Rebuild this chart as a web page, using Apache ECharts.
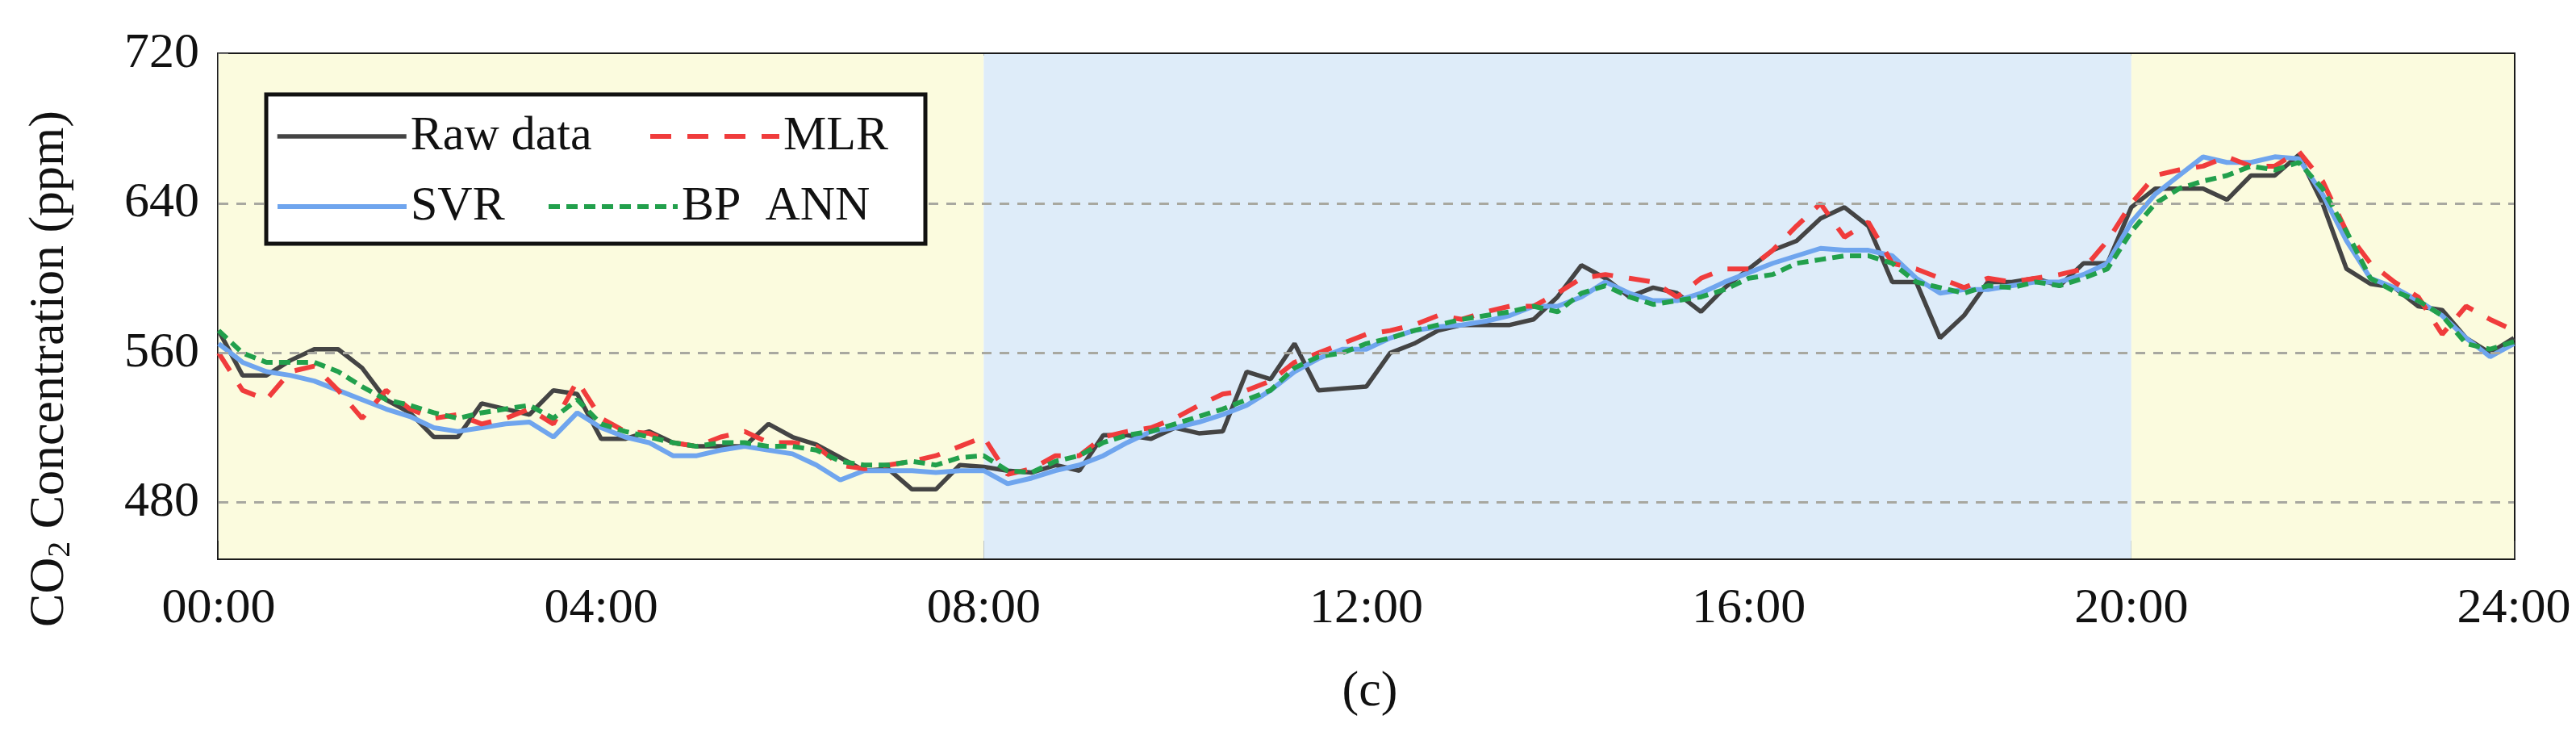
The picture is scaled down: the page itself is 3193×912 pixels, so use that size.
<!DOCTYPE html>
<html>
<head>
<meta charset="utf-8">
<script src="https://cdn.jsdelivr.net/npm/echarts@6/dist/echarts.min.js"></script>
<style>
  html, body { margin: 0; padding: 0; background: #fff; }
  #chart { width: 3193px; height: 912px; }
</style>
</head>
<body>
<div id="chart"></div>
<script>
// readings every 15 minutes, 00:00 .. 24:00
const stepHours = 0.25;

const rawData = [
    572, 548, 548, 556, 562, 562, 552, 535, 528, 515, 515, 533, 530, 527, 540, 538,
    514, 514, 518, 512, 510, 510, 510, 522, 515, 511, 504, 497, 498, 487, 487, 500,
    499, 497, 496, 500, 497, 516, 516, 514, 520, 517, 518, 550, 546, 565, 540, 541,
    542, 560, 565, 572, 575, 575, 575, 578, 590, 607, 600, 590, 595, 592, 582, 595,
    605, 615, 620, 632, 638, 628, 598, 598, 568, 580, 598, 598, 600, 596, 608, 608,
    638, 648, 648, 648, 642, 655, 655, 666, 640, 605, 597, 595, 585, 583, 568, 560,
    568
];
const mlrData = [
    560, 540, 535, 550, 553, 540, 525, 540, 530, 525, 527, 522, 525, 530, 522, 545,
    525, 518, 517, 512, 510, 515, 518, 512, 512, 510, 500, 498, 500, 502, 505, 510,
    515, 495, 498, 505, 505, 515, 518, 520, 525, 532, 538, 540, 545, 555, 560, 565,
    570, 572, 575, 580, 578, 582, 585, 585, 592, 600, 602, 600, 598, 590, 600, 605,
    605, 615, 628, 640, 622, 630, 608, 605, 600, 595, 600, 598, 600, 602, 605, 620,
    640, 655, 658, 660, 665, 660, 660, 668, 652, 625, 608, 598, 590, 570, 585, 578,
    572
];
const svrData = [
    565, 555, 550, 548, 545, 540, 535, 530, 526, 520, 518, 520, 522, 523, 515, 528,
    520, 515, 512, 505, 505, 508, 510, 508, 506, 500, 492, 497, 497, 497, 496, 497,
    497, 490, 493, 497, 500, 505, 512, 518, 520, 523, 527, 532, 540, 550, 557, 562,
    562, 568, 572, 574, 575, 577, 580, 585, 585, 590, 598, 592, 588, 588, 592, 598,
    603, 608, 612, 616, 615, 615, 612, 600, 592, 594, 594, 596, 598, 598, 602, 608,
    630, 645, 655, 665, 662, 662, 665, 664, 645, 620, 600, 595, 588, 580, 568, 558,
    565
];
const annData = [
    572, 560, 555, 555, 555, 550, 542, 535, 532, 528, 525, 528, 530, 532, 525, 535,
    522, 518, 515, 512, 510, 512, 512, 510, 510, 508, 502, 500, 500, 502, 500, 504,
    505, 497, 496, 502, 505, 512, 516, 518, 522, 526, 530, 535, 540, 552, 558, 560,
    565, 568, 572, 575, 578, 580, 582, 585, 582, 592, 596, 590, 586, 588, 590, 594,
    600, 602, 608, 610, 612, 612, 608, 598, 595, 592, 596, 595, 598, 596, 600, 605,
    625, 640, 648, 652, 655, 660, 658, 662, 648, 625, 600, 593, 588, 580, 565, 562,
    566
];

const yLabelValues = [480, 560, 640, 720];
const yTickValues = [480, 520, 560, 600, 640, 680, 720];
const gridValues = [480, 560, 640];
// [start hour, end hour, colour]
const periods = [
    [0, 8, '#fbfbde'],
    [8, 20, '#deecf9'],
    [20, 24, '#fbfbde']
];

const serif = '"Liberation Serif", "DejaVu Serif", serif';

function toPoints(values) {
    return values.map((v, i) => [i * stepHours, v]);
}

function hourLabel(v) {
    return (v < 10 ? '0' : '') + v + ':00';
}

let myChart = echarts.init(document.getElementById('chart'));

let legendBase = {
    orient: 'horizontal',
    itemWidth: 160,
    itemHeight: 14,
    itemStyle: { opacity: 0 },
    lineStyle: { width: 'inherit' },
    textStyle: { fontFamily: serif, fontSize: 60, color: '#111' },
    z: 20
};

let option = {
    animation: false,
    backgroundColor: '#fff',
    title: {
        text: '(c)',
        left: 1693,
        top: 822,
        textAlign: 'center',
        textStyle: { fontFamily: serif, fontSize: 62, fontWeight: 'normal', color: '#111' }
    },
    grid: {
        left: 271,
        right: 77,
        top: 67,
        bottom: 220,
        show: true,
        borderColor: '#1a1a1a',
        borderWidth: 4,
        backgroundColor: 'transparent'
    },
    legend: [
        Object.assign({}, legendBase, { data: ['Raw data'], left: 336, top: 134 }),
        Object.assign({}, legendBase, { data: ['MLR'], left: 798, top: 134 }),
        Object.assign({}, legendBase, { data: ['SVR'], left: 336, top: 221 }),
        Object.assign({}, legendBase, { data: ['BP  ANN'], left: 672, top: 221 })
    ],
    graphic: [
        {
            type: 'rect',
            z: 10,
            shape: { x: 330, y: 117, width: 817, height: 185 },
            style: { fill: '#fff', stroke: '#111', lineWidth: 5 }
        },
        {
            type: 'text',
            x: 62,
            y: 457,
            rotation: Math.PI / 2,
            style: {
                text: '{m|CO}{s|2}{m| Concentration (ppm)}',
                align: 'center',
                verticalAlign: 'middle',
                rich: {
                    m: { fontFamily: serif, fontSize: 62, fill: '#111' },
                    s: { fontFamily: serif, fontSize: 40, fill: '#111', padding: [26, 0, 0, 0] }
                }
            }
        }
    ],
    xAxis: {
        type: 'value',
        min: 0,
        max: 24,
        interval: 4,
        axisLine: { show: true, lineStyle: { color: '#1a1a1a', width: 4 } },
        axisTick: { show: true, inside: true, length: 22, lineStyle: { color: '#333', width: 3 } },
        minorTick: { show: true, splitNumber: 2, length: 14, lineStyle: { color: '#333', width: 3 } },
        splitLine: { show: false },
        axisLabel: {
            margin: 32,
            fontFamily: serif,
            fontSize: 62,
            color: '#111',
            formatter: hourLabel
        }
    },
    yAxis: {
        type: 'value',
        min: 450,
        max: 720,
        axisLine: { show: true, lineStyle: { color: '#777', width: 3 } },
        axisTick: {
            show: true,
            inside: true,
            length: 12,
            customValues: yTickValues,
            lineStyle: { color: '#777', width: 3 }
        },
        splitLine: { show: false },
        axisLabel: {
            margin: 24,
            fontFamily: serif,
            fontSize: 62,
            color: '#111',
            customValues: yLabelValues
        }
    },
    series: [
        {
            name: 'Raw data',
            type: 'line',
            data: toPoints(rawData),
            symbol: 'none',
            lineStyle: { color: '#444', width: 5.5 },
            itemStyle: { color: '#444' },
            markArea: {
                silent: true,
                data: periods.map(p => [
                    { xAxis: p[0], itemStyle: { color: p[2] } },
                    { xAxis: p[1] }
                ])
            },
            markLine: {
                silent: true,
                symbol: 'none',
                label: { show: false },
                lineStyle: { color: '#a8a8a0', width: 3, type: [12, 10] },
                data: gridValues.map(v => ({ yAxis: v }))
            },
            z: 3
        },
        {
            name: 'MLR',
            type: 'line',
            data: toPoints(mlrData),
            symbol: 'none',
            lineStyle: { color: '#f03c3c', width: 6, type: [26, 20] },
            itemStyle: { color: '#f03c3c' },
            z: 4
        },
        {
            name: 'SVR',
            type: 'line',
            data: toPoints(svrData),
            symbol: 'none',
            lineStyle: { color: '#6fa5ee', width: 6 },
            itemStyle: { color: '#6fa5ee' },
            z: 3
        },
        {
            name: 'BP  ANN',
            type: 'line',
            data: toPoints(annData),
            symbol: 'none',
            lineStyle: { color: '#22a04c', width: 6, type: [14, 8] },
            itemStyle: { color: '#22a04c' },
            z: 4
        }
    ]
};

myChart.setOption(option);
</script>
</body>
</html>
